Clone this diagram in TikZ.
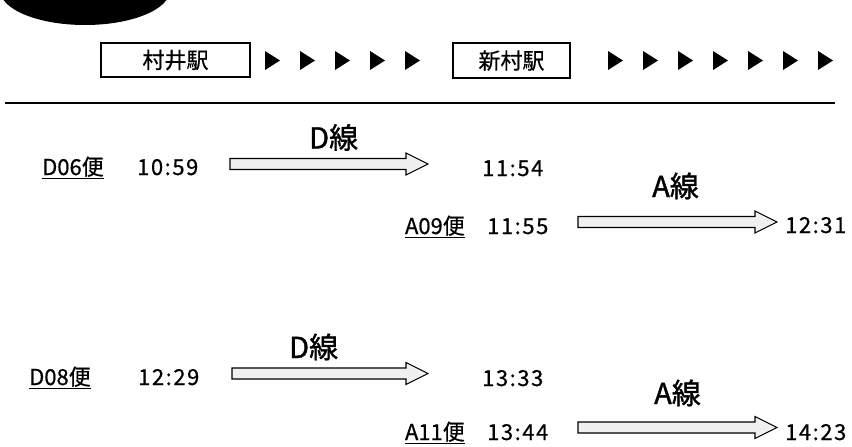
\documentclass[tikz,border=0pt]{standalone}
\usepackage{fontspec}
\setmainfont{Noto Sans CJK JP}[FakeBold=0.6]
\newfontfamily\timefont{Noto Sans CJK JP}[FakeBold=0.6, LetterSpace=7]
\newfontfamily\labelfont{Noto Sans CJK JP}[FakeBold=1.2]
\newcommand\blockarr[3]{%
  \draw[arrowbody] (#1,#3-5.5) -- (#2-22,#3-5.5) -- (#2-22,#3-11) -- (#2,#3)
    -- (#2-22,#3+11) -- (#2-22,#3+5.5) -- (#1,#3+5.5) -- cycle;}
\begin{document}
\begin{tikzpicture}[x=1pt,y=-1pt,
  stationbox/.style={draw, line width=1.3pt, inner sep=0pt,
    font=\fontsize{22}{24}\selectfont},
  timetext/.style={anchor=base west, inner sep=0pt, font=\timefont\fontsize{22}{24}\selectfont},
  flighttext/.style={anchor=base east, inner sep=0pt, font=\fontsize{22}{24}\selectfont},
  flighttextw/.style={anchor=base west, inner sep=0pt, font=\fontsize{22}{24}\selectfont},
  linelabel/.style={anchor=base west, inner sep=0pt, font=\labelfont\fontsize{29}{32}\selectfont},
  arrowbody/.style={fill=gray!12, draw=black, line width=1.1pt, line join=miter},
  marker/.style={fill=black}]
\useasboundingbox (0,0) rectangle (852,447);
\clip (0,0) rectangle (852,447);
% badge in the top-left corner
\fill (85,-10) ellipse [x radius=85, y radius=35];
% stations
\node[stationbox, minimum width=149pt, minimum height=34pt] (s1) at (175.5,60) {村井駅};
\node[stationbox, minimum width=117pt, minimum height=35pt] (s2) at (511.5,60.5) {新村駅};
\foreach \x in {265,300,335,370,405}
  \fill[marker] (\x,51) -- (\x+15,60.5) -- (\x,70) -- cycle;
\foreach \x in {608,643,678,713,748,783,818}
  \fill[marker] (\x,51) -- (\x+15,60.5) -- (\x,70) -- cycle;
\coordinate (r1) at (5,103);
\coordinate (r2) at (835,103);
\draw[line width=1.5pt] (r1) -- (r2);
% first connection
\node[flighttextw] (f1) at (42,175) {\underline{D06便}};
\node[timetext] (t1) at (137,175) {10:59};
\node[linelabel] (l1) at (309,148.5) {D線};
\blockarr{230}{428}{164}
\node[timetext] (t2) at (482,176) {11:54};
\node[linelabel] (l2) at (652,197) {A線};
\node[flighttext] (f2) at (465,234) {\underline{A09便}};
\node[timetext] (t3) at (487,234) {11:55};
\blockarr{578}{777}{222}
\node[timetext] (t4) at (785,233) {12:31};
% second connection
\node[flighttextw] (f3) at (29,385) {\underline{D08便}};
\node[timetext] (t5) at (138,385) {12:29};
\node[linelabel] (l3) at (289,358) {D線};
\blockarr{232}{428}{373.5}
\node[timetext] (t6) at (482,386) {13:33};
\node[linelabel] (l4) at (654,404) {A線};
\node[flighttext] (f4) at (465,440) {\underline{A11便}};
\node[timetext] (t7) at (487,440) {13:44};
\blockarr{578}{777}{427.5}
\node[timetext] (t8) at (785,440) {14:23};
\end{tikzpicture}
\end{document}
